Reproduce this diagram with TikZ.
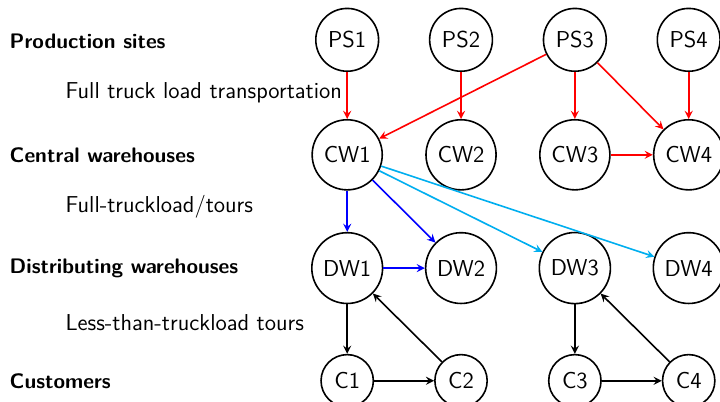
\documentclass[tikz,border=0pt]{standalone}
\usetikzlibrary{arrows}
\definecolor{lightblue}{RGB}{0,174,239}
\begin{document}
\begin{tikzpicture}[font=\sffamily\fontsize{11.5}{13.5}\selectfont, >=stealth, thick,
  site/.style={circle, draw, inner sep=3.9pt},
  level/.style={anchor=west, font=\sffamily\bfseries\fontsize{10.5}{12}\selectfont},
  mode/.style={anchor=west},
  ftl/.style={->, red},
  tour/.style={->, blue},
  longtour/.style={->, lightblue},
  ltl/.style={->, black}]
  \useasboundingbox (0,0) rectangle (12.65,-7.05);

  % level captions
  \node[level] (lps) at (0.04,-0.72) {Production sites};
  \node[level] (lcw) at (0.04,-2.72) {Central warehouses};
  \node[level] (ldw) at (0.04,-4.71) {Distributing warehouses};
  \node[level] (lc)  at (0.04,-6.69) {Customers};
  \node[mode] (mftl) at (1.02,-1.63) {Full truck load transportation};
  \node[mode] (mft)  at (1.02,-3.63) {Full-truckload/tours};
  \node[mode] (mltl) at (1.02,-5.67) {Less-than-truckload tours};

  % nodes
  \foreach \i/\x in {1/6.1,2/8.1,3/10.1,4/12.1} {
    \node[site] (PS\i) at (\x,-0.7) {PS\i};
    \node[site] (CW\i) at (\x,-2.72) {CW\i};
    \node[site] (DW\i) at (\x,-4.71) {DW\i};
  }
  \node[site] (C1) at (6.1,-6.69) {C1};
  \node[site] (C2) at (8.1,-6.69) {C2};
  \node[site] (C3) at (10.1,-6.69) {C3};
  \node[site] (C4) at (12.1,-6.69) {C4};

  % production sites to central warehouses
  \draw[ftl] (PS1) -- (CW1);
  \draw[ftl] (PS2) -- (CW2);
  \draw[ftl] (PS3) -- (CW1);
  \draw[ftl] (PS3) -- (CW3);
  \draw[ftl] (PS3) -- (CW4);
  \draw[ftl] (PS4) -- (CW4);
  \draw[ftl] (CW3) -- (CW4);

  % central to distributing warehouses
  \draw[tour] (CW1) -- (DW1);
  \draw[tour] (CW1) -- (DW2);
  \draw[tour] (DW1) -- (DW2);
  \draw[longtour] (CW1) -- (DW3);
  \draw[longtour] (CW1) -- (DW4);

  % customer tours
  \draw[ltl] (DW1) -- (C1);
  \draw[ltl] (C1) -- (C2);
  \draw[ltl] (C2) -- (DW1);
  \draw[ltl] (DW3) -- (C3);
  \draw[ltl] (C3) -- (C4);
  \draw[ltl] (C4) -- (DW3);
\end{tikzpicture}
\end{document}
